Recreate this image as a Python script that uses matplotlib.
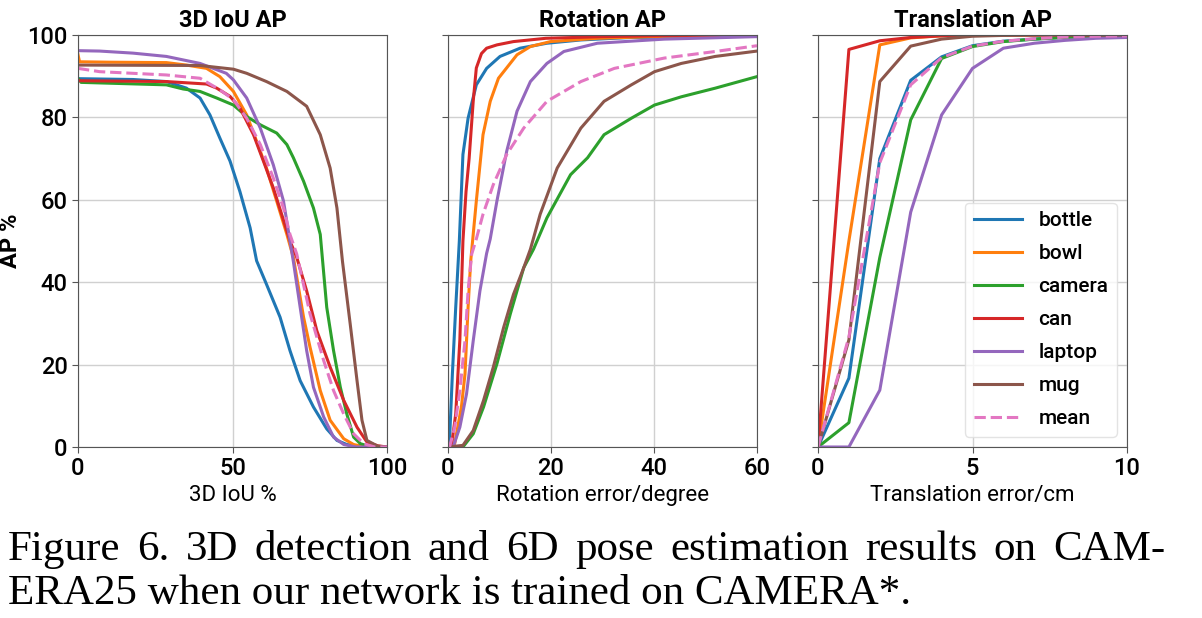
import matplotlib
matplotlib.use("Agg")
import matplotlib.pyplot as plt

plt.rcParams['font.family'] = ['Roboto', 'DejaVu Sans']
plt.rcParams['font.weight'] = 'medium'

classes = ['bottle', 'bowl', 'camera', 'can', 'laptop', 'mug', 'mean']
colors = ['#1f77b4', '#ff7f0e', '#2ca02c', '#d62728', '#9467bd', '#8c564b', '#e377c2']

# 3D IoU AP curves: (iou %, AP %)
iou_bottle_x = [0, 17.8, 28.6, 35.1, 39.5, 42.7, 45.9, 49.2, 52.4, 55.7, 57.8, 61, 65.4, 68.6, 71.9, 76.2, 80.5, 83.8, 87, 93, 100]
iou_bottle_y = [89.4, 89.2, 88.7, 87.1, 84.7, 80.6, 75, 69.4, 62, 53.2, 45.2, 39.5, 31.5, 23.4, 16.1, 9.7, 4.4, 1.6, 0.6, 0, 0]
iou_bowl_x = [0, 0.5, 10, 28.6, 35.1, 41.6, 45.9, 50.3, 54.6, 57.8, 61, 64.3, 67.6, 69.7, 73, 75.1, 78.4, 81.6, 86, 89.2, 93, 100]
iou_bowl_y = [95.2, 93.5, 93.4, 93.3, 92.7, 91.9, 89.9, 86.3, 80.6, 74.2, 67.7, 59.7, 51.6, 46, 31.5, 24.2, 13.7, 6.5, 2, 0.6, 0, 0]
iou_camera_x = [0, 1, 28.6, 34, 39.5, 44.9, 50.3, 54.6, 59, 64.3, 67.6, 69.7, 73, 76.2, 78.4, 80.5, 82.7, 84.9, 87, 89.2, 91.4, 94, 100]
iou_camera_y = [89.5, 88.5, 87.9, 86.9, 86.3, 84.7, 83, 80.2, 78.2, 76.2, 73.4, 70.2, 64.5, 58, 51.6, 33.9, 23.4, 14.5, 8, 2.4, 0.8, 0.2, 0]
iou_can_x = [0, 28.6, 41.6, 44.9, 49.2, 52.4, 56.8, 60, 63.2, 65.9, 68.6, 70.8, 74, 77.3, 81.6, 86, 90.3, 93.5, 97, 100]
iou_can_y = [88.9, 88.7, 88.1, 87.1, 85.1, 82.3, 75.8, 69.4, 62.9, 56.5, 50, 46, 37.9, 28.2, 19.4, 11.3, 4.8, 1.2, 0.3, 0]
iou_laptop_x = [0, 7, 17.8, 28.6, 39.5, 48, 50.3, 54.6, 59, 63.2, 66.5, 69.7, 71.9, 74, 76.2, 79.5, 82.7, 86, 90, 100]
iou_laptop_y = [96.2, 96.1, 95.6, 94.8, 93.1, 90.7, 89.1, 84.7, 77.4, 68.5, 59.7, 45, 33.9, 23.4, 14.5, 7.3, 2.4, 0.6, 0, 0]
iou_mug_x = [0, 39.5, 50.3, 54.6, 61, 67.6, 74, 78.4, 81.6, 83.8, 85.6, 88.1, 90.3, 91.9, 93.5, 97, 100]
iou_mug_y = [92.7, 92.6, 91.7, 90.7, 88.7, 86.3, 82.7, 75.8, 67.7, 58, 45, 29.8, 16.1, 6.5, 1.6, 0.2, 0]
iou_mean_x = [0, 7, 28.6, 39.5, 45.9, 50.3, 54.6, 59, 63.2, 66.5, 68.6, 70.8, 75.1, 79.5, 82.7, 86, 89.2, 92.5, 96, 100]
iou_mean_y = [91.9, 91.1, 90.3, 89.5, 86.7, 84.3, 79.8, 73.4, 65.3, 58, 51.6, 46.8, 32.3, 21, 13.7, 8, 3.2, 0.8, 0, 0]

# Rotation AP curves: (error deg, AP %)
rot_bottle_x = [0, 0.3, 0.85, 1.5, 2.2, 2.9, 3.9, 5.5, 7.5, 10.1, 14, 19.2, 25.8, 35.5, 60]
rot_bottle_y = [0, 1.6, 17.7, 33.9, 50, 71, 79.8, 87.9, 91.9, 94.8, 96.8, 98, 98.8, 99.4, 99.7]
rot_bowl_x = [0, 1.3, 2.6, 3.3, 3.9, 4.4, 5.5, 6.8, 8.2, 9.8, 13.4, 16, 19.9, 29, 42, 60]
rot_bowl_y = [0, 0.8, 9.7, 17.7, 33.9, 45, 59.7, 75.8, 83.9, 89.5, 95.2, 97.2, 98.4, 99.2, 99.7, 99.9]
rot_camera_x = [0, 2.9, 4.9, 6.9, 9.5, 12.1, 14.7, 16.6, 19.2, 23.8, 27.1, 30.3, 35.6, 40.1, 45.3, 51.9, 60]
rot_camera_y = [0, 0, 3.2, 9.7, 20.2, 32.3, 43.5, 48, 55.6, 66.1, 70.2, 75.8, 79.8, 83, 85, 87.1, 89.9]
rot_can_x = [0, 0.7, 1.5, 2.3, 2.9, 3.5, 4.1, 4.9, 5.5, 6.5, 7.5, 9.5, 12.7, 19, 30, 45, 60]
rot_can_y = [0, 0.5, 8, 26, 50, 62, 70, 84, 92, 95.5, 96.8, 97.6, 98.4, 99.2, 99.6, 99.9, 100]
rot_laptop_x = [0, 1.0, 2.3, 3.6, 4.9, 6.2, 7.5, 8.2, 9.5, 11.4, 13.4, 16, 19.2, 22.5, 29, 42, 60]
rot_laptop_y = [0, 0, 4.8, 12.9, 25.8, 37.9, 47, 50.5, 59.7, 71.8, 81.5, 88.7, 93.1, 96, 98, 99, 99.6]
rot_mug_x = [0, 2.9, 4.9, 6.9, 8.8, 10.8, 12.7, 14.7, 16, 17.9, 21.2, 25.8, 30.3, 35.6, 40.1, 45.3, 51.9, 60]
rot_mug_y = [0, 0.4, 4, 11.3, 19.4, 29, 37, 43.5, 48, 56.5, 67.7, 77.4, 83.9, 87.9, 91.1, 93.1, 94.8, 96.1]
rot_mean_x = [0, 0.3, 1.3, 2.3, 3.3, 3.9, 4.6, 5.5, 6.8, 8.8, 11.4, 14.7, 19.2, 25.8, 32.3, 42, 51.9, 60]
rot_mean_y = [0, 0, 4.8, 13.7, 25.8, 37.9, 46.8, 50.5, 56.5, 63.7, 71, 77.4, 83.9, 88.7, 91.9, 94.4, 96, 97.4]

# Translation AP curves: AP % at 0..10 cm
trans_x = [0, 1, 2, 3, 4, 5, 6, 7, 8, 9, 10]
trans_bottle = [0, 16.7, 70, 89, 94.7, 97.4, 98.5, 99, 99.5, 99.7, 99.8]
trans_bowl = [0, 50, 97.6, 99.3, 99.8, 100, 100, 100, 100, 100, 100]
trans_camera = [0, 5.9, 46, 79.4, 94.3, 97.2, 98.4, 99, 99.4, 99.6, 99.7]
trans_can = [0, 96.5, 98.6, 99.4, 99.8, 100, 100, 100, 100, 100, 100]
trans_laptop = [0, 0, 13.8, 57, 80.6, 91.9, 96.8, 98, 98.7, 99.2, 99.4]
trans_mug = [0, 26, 88.7, 97.3, 99, 99.7, 99.9, 100, 100, 100, 100]
trans_mean = [0, 26.7, 69, 87.9, 94.5, 97.3, 98.5, 99.1, 99.5, 99.7, 99.8]

caption_1 = 'Figure 6. 3D detection and 6D pose estimation results on CAM-'
caption_2 = 'ERA25 when our network is trained on CAMERA*.'

iou_data = [(iou_bottle_x, iou_bottle_y), (iou_bowl_x, iou_bowl_y), (iou_camera_x, iou_camera_y),
            (iou_can_x, iou_can_y), (iou_laptop_x, iou_laptop_y), (iou_mug_x, iou_mug_y),
            (iou_mean_x, iou_mean_y)]
rot_data = [(rot_bottle_x, rot_bottle_y), (rot_bowl_x, rot_bowl_y), (rot_camera_x, rot_camera_y),
            (rot_can_x, rot_can_y), (rot_laptop_x, rot_laptop_y), (rot_mug_x, rot_mug_y),
            (rot_mean_x, rot_mean_y)]
trans_data = [(trans_x, t) for t in [trans_bottle, trans_bowl, trans_camera, trans_can,
                                     trans_laptop, trans_mug, trans_mean]]

W, H = 1202, 618
fig = plt.figure(figsize=(W / 100, H / 100), dpi=100)
w, h = 309 / W, 412 / H
b = 1 - 447 / H
axes = [fig.add_axes([78 / W, b, w, h]),
        fig.add_axes([448 / W, b, w, h]),
        fig.add_axes([818 / W, b, w, h])]

panels = [(iou_data, '3D IoU AP', '3D IoU %', 100, [0, 50, 100]),
          (rot_data, 'Rotation AP', 'Rotation error/degree', 60, [0, 20, 40, 60]),
          (trans_data, 'Translation AP', 'Translation error/cm', 10, [0, 5, 10])]

for i, (ax, (data, title, xlabel, xmax, xticks)) in enumerate(zip(axes, panels)):
    for (x, y), name, c in zip(data, classes, colors):
        ls = '--' if name == 'mean' else '-'
        ax.plot(x, y, color=c, lw=2.2, ls=ls, label=name)
    ax.set_xlim(0, xmax)
    ax.set_ylim(0, 100)
    ax.set_xticks(xticks)
    ax.set_yticks([0, 20, 40, 60, 80, 100])
    ax.grid(True, color='#d0d0d0', lw=1)
    ax.set_axisbelow(True)
    ax.set_title(title, fontsize=17, fontweight='bold', pad=6)
    ax.set_xlabel(xlabel, fontsize=16, labelpad=3)
    ax.tick_params(labelsize=17, length=4, color='#555555')
    for s in ax.spines.values():
        s.set_color('#555555')
    if i == 0:
        ax.set_ylabel('AP %', fontsize=17, fontweight='bold', labelpad=4)
    else:
        ax.set_yticklabels([])

axes[2].legend(loc='lower right', fontsize=15, handlelength=2.3, labelspacing=0.67,
               borderpad=0.4, handletextpad=0.8, framealpha=0.8, edgecolor='#dddddd')

# caption: first line justified between x=8 and x=1165 px, second line ragged
cap_font = dict(family=['Liberation Serif', 'DejaVu Serif'], fontsize=31)
renderer = fig.canvas.get_renderer()
words = caption_1.split(' ')
objs = [fig.text(0, 1 - 560 / H, wd, va='baseline', ha='left', **cap_font) for wd in words]
widths = [o.get_window_extent(renderer).width for o in objs]
gap = (1165 - 8 - sum(widths)) / (len(words) - 1)
x = 8
for o, wd in zip(objs, widths):
    o.set_x(x / W)
    x += wd + gap
fig.text(8 / W, 1 - 604 / H, caption_2, va='baseline', ha='left', **cap_font)

fig.savefig('out.png', dpi=100)
